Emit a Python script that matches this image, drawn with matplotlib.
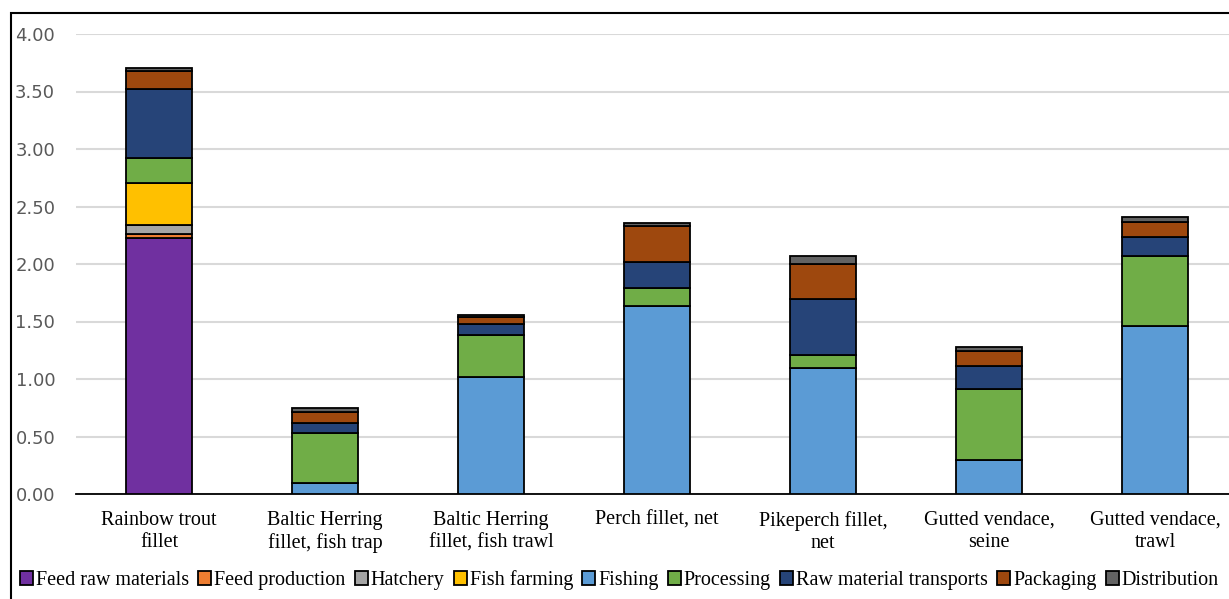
import numpy as np
import matplotlib.pyplot as plt
from matplotlib.patches import Rectangle

# products on the x axis
products = ['Rainbow trout\nfillet', 'Baltic Herring\nfillet, fish trap',
            'Baltic Herring\nfillet, fish trawl', 'Perch fillet, net',
            'Pikeperch fillet,\nnet', 'Gutted vendace,\nseine',
            'Gutted vendace,\ntrawl']

# life cycle stages, stacked bottom to top
stages = ['Feed raw materials', 'Feed production', 'Hatchery', 'Fish farming',
          'Fishing', 'Processing', 'Raw material transports', 'Packaging',
          'Distribution']

feed_raw = [2.23, 0, 0, 0, 0, 0, 0]
feed_prod = [0.035, 0, 0, 0, 0, 0, 0]
hatchery = [0.075, 0, 0, 0, 0, 0, 0]
fish_farming = [0.365, 0, 0, 0, 0, 0, 0]
fishing = [0, 0.095, 1.02, 1.635, 1.095, 0.30, 1.46]
processing = [0.22, 0.435, 0.36, 0.16, 0.11, 0.61, 0.61]
transports = [0.60, 0.085, 0.095, 0.22, 0.49, 0.20, 0.165]
packaging = [0.15, 0.095, 0.06, 0.315, 0.305, 0.13, 0.13]
distribution = [0.03, 0.035, 0.025, 0.025, 0.07, 0.04, 0.04]

colors = ['#7030A0', '#ED7D31', '#A5A5A5', '#FFC000', '#5B9BD5',
          '#70AD47', '#264478', '#9E480E', '#636363']

series = [feed_raw, feed_prod, hatchery, fish_farming, fishing,
          processing, transports, packaging, distribution]

fig = plt.figure(figsize=(12.29, 5.99), dpi=100)
ax = fig.add_axes([76 / 1229, 105 / 599, 1162 / 1229, 460 / 599])

x = np.arange(len(products))
bottom = np.zeros(len(products))
handles = []
for name, vals, c in zip(stages, series, colors):
    vals = np.array(vals)
    b = ax.bar(x, vals, 0.4, bottom=bottom, color=c, edgecolor='black',
               linewidth=1.3, label=name, zorder=3)
    handles.append(b)
    bottom += vals

ax.set_xlim(-0.5, len(products) - 0.5)
ax.set_ylim(0, 4)
ax.set_yticks(np.arange(0, 4.01, 0.5))
ax.set_yticklabels([f'{v:.2f}' for v in np.arange(0, 4.01, 0.5)],
                   fontsize=13, color='#595959', family='DejaVu Sans')
ax.set_xticks(x)
ax.set_xticklabels(products, fontsize=14.5, family='Liberation Serif',
                   linespacing=1.25)
ax.tick_params(axis='both', length=0)
ax.tick_params(axis='y', pad=15)
ax.tick_params(axis='x', pad=12)

ax.yaxis.grid(True, color='#D9D9D9', linewidth=1.5, zorder=0)
for s in ['top', 'right', 'left']:
    ax.spines[s].set_visible(False)
ax.spines['bottom'].set_color('black')
ax.spines['bottom'].set_linewidth(1.3)

leg = fig.legend(handles=handles, labels=stages, loc='center left',
                 bbox_to_anchor=(20 / 1229, 1 - 580 / 599), ncol=9,
                 frameon=False, handlelength=0.65, handleheight=0.65,
                 handletextpad=0.15, columnspacing=0.45, borderaxespad=0,
                 borderpad=0,
                 prop={'family': 'Liberation Serif', 'size': 14.5})

# outer chart border
fig.patches.append(Rectangle((11 / 1229, -0.1), 1.2, 1.1 - 13 / 599,
                             transform=fig.transFigure, fill=False,
                             edgecolor='black', linewidth=1.5))

fig.savefig('out.png', dpi=100)
